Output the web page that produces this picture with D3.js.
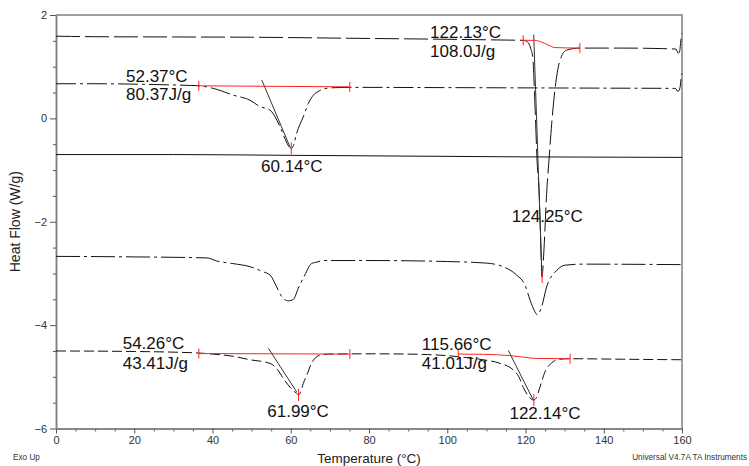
<!DOCTYPE html>
<html>
<head>
<meta charset="utf-8">
<script src="https://cdnjs.cloudflare.com/ajax/libs/d3/7.8.5/d3.min.js"></script>
<style>
body { margin: 0; background: #fff; }
svg { display: block; font-family: "Liberation Sans", Arial, sans-serif; }
</style>
</head>
<body>
<svg id="chart" width="749" height="466"></svg>
<script>
// axis ticks
const xTicks = [0, 20, 40, 60, 80, 100, 120, 140, 160];
const xMinor = d3.range(0, 161, 5).filter(d => d % 20 != 0);
const yTicks = [-6, -4, -2, 0, 2];
const yMinor = d3.range(-6, 2.01, 0.5).filter(d => d % 2 != 0);

// heat flow curves, [temperature °C, W/g]
const curveA = [[0,1.59],[4,1.585],[10,1.58],[30,1.575],[50,1.57],[75,1.55],[100,1.53],[115,1.515],[119.4,1.51],[120.5,1.48],[121.3,1.36],[121.9,1.15],[122.3,0.5],[122.6,-0.1],[122.95,-0.81],[123.5,-1.45],[123.9,-2.42],[124.12,-2.95],[124.25,-3.07],[124.4,-2.95],[124.8,-2.42],[125.4,-1.45],[126.0,-0.81],[126.7,-0.1],[127.5,0.54],[128.8,1.12],[130.5,1.32],[133.9,1.36],[145,1.36],[155,1.35],[158.5,1.34],[159.0,1.26],[159.4,1.3],[159.7,1.5],[160,1.65]];
const curveB = [[0,0.67],[10,0.67],[25,0.655],[33,0.64],[36.5,0.63],[40.2,0.58],[45.3,0.45],[49.6,0.35],[52.1,0.23],[54.7,0.16],[56,0.03],[57.3,-0.17],[58.5,-0.39],[59.6,-0.55],[60.14,-0.58],[60.7,-0.52],[61.5,-0.29],[63.2,0.03],[64.5,0.29],[65.8,0.45],[67.5,0.54],[70,0.59],[75.1,0.6],[100,0.595],[120,0.59],[140,0.585],[158.3,0.58],[159.0,0.52],[159.5,0.6],[159.8,0.8],[160,0.87]];
const curveC = [[0,-0.70],[30,-0.70],[60,-0.715],[90,-0.73],[120,-0.745],[160,-0.755]];
const curveD = [[0,-2.67],[20,-2.68],[38.6,-2.70],[41.1,-2.76],[45.3,-2.81],[49.6,-2.87],[53,-2.97],[54.7,-3.03],[56.4,-3.26],[57.7,-3.45],[59.4,-3.53],[60.7,-3.50],[61.9,-3.29],[63.6,-3.03],[65.3,-2.81],[66.7,-2.78],[68.3,-2.75],[80,-2.75],[100,-2.77],[110,-2.8],[114.3,-2.87],[117.7,-3.03],[119.9,-3.23],[121.2,-3.52],[122.4,-3.74],[123.0,-3.80],[124.1,-3.65],[125.4,-3.26],[128.0,-2.94],[130.1,-2.84],[134.7,-2.82],[160,-2.83]];
const curveE = [[0,-4.50],[20,-4.51],[36.5,-4.54],[40,-4.56],[45,-4.6],[49.6,-4.67],[54.7,-4.74],[56.5,-4.85],[58.1,-5.03],[59.8,-5.2],[61.5,-5.32],[62.0,-5.35],[62.5,-5.3],[63.2,-5.13],[64.3,-4.93],[65.3,-4.74],[67.5,-4.58],[70,-4.56],[80,-4.555],[90,-4.56],[95,-4.57],[100,-4.59],[105,-4.63],[109.2,-4.67],[113.5,-4.74],[116.9,-4.87],[118.3,-5.0],[119.4,-5.2],[120.8,-5.38],[122.1,-5.45],[122.8,-5.4],[123.7,-5.2],[125,-4.9],[126.7,-4.73],[128.8,-4.66],[131.4,-4.65],[145,-4.66],[160,-4.67]];

// analysis marks
const baselines = [
  [[119.4,1.51],[122.4,1.51],[124,1.48],[125.8,1.42],[127.5,1.37],[133.9,1.36]],
  [[36.5,0.63],[75.1,0.61]],
  [[36.5,-4.55],[75.1,-4.56]],
  [[102.8,-4.56],[109.2,-4.565],[116,-4.59],[119.5,-4.62],[122.8,-4.645],[131.4,-4.65]]
];
const tangents = [
  [[122.1,1.62],[124.2,-3.05]],
  [[52.6,0.74],[59.8,-0.55]],
  [[54.3,-4.45],[61.5,-5.29]],
  [[115.6,-4.49],[122.0,-5.45]]
];
const peaks = [[124.25,-3.07],[60.14,-0.58],[61.99,-5.35],[122.14,-5.45]];
const labelText = ["122.13°C","108.0J/g","52.37°C","80.37J/g","60.14°C","124.25°C","54.26°C","43.41J/g","61.99°C","115.66°C","41.01J/g","122.14°C"];
const labelAt = [[95.6,1.555],[95.6,1.19],[17.9,0.704],[17.9,0.356],[52.4,-1.04],[116.5,-2.005],[17.05,-4.46],[17.05,-4.85],[54.0,-5.78],[93.5,-4.48],[93.5,-4.85],[115.9,-5.82]];

const svg = d3.select('#chart');
const x = d3.scaleLinear().domain([0, 160]).range([56, 682]);
const y = d3.scaleLinear().domain([-6, 2]).range([428.5, 15]);

const axisColor = '#808080';

// frame top/right
svg.append('path')
    .attr('d', `M${x(0)},${y(2)}H${x(160)}V${y(-6)}`)
    .attr('fill', 'none').attr('stroke', axisColor).attr('stroke-width', 1.5);

const styleAxis = g => {
    g.select('.domain').attr('stroke', axisColor).attr('stroke-width', 1.5);
    g.selectAll('.tick line').attr('stroke', '#555');
    g.selectAll('.tick text').attr('fill', '#333').style('font-size', '11px')
        .style('font-family', '"Liberation Sans", Arial, sans-serif');
};

svg.append('g').attr('transform', `translate(0,${y(-6)})`)
    .call(d3.axisBottom(x).tickValues(xMinor).tickSize(3).tickSizeOuter(0).tickFormat(''))
    .call(styleAxis);
svg.append('g').attr('transform', `translate(0,${y(-6)})`)
    .call(d3.axisBottom(x).tickValues(xTicks).tickSize(5).tickPadding(3).tickSizeOuter(0))
    .call(styleAxis);
svg.append('g').attr('transform', `translate(${x(0)},0)`)
    .call(d3.axisLeft(y).tickValues(yMinor).tickSize(3).tickSizeOuter(0).tickFormat(''))
    .call(styleAxis);
svg.append('g').attr('transform', `translate(${x(0)},0)`)
    .call(d3.axisLeft(y).tickValues(yTicks).tickSize(6).tickPadding(3).tickSizeOuter(0))
    .call(styleAxis);

const line = d3.line().x(d => x(d[0])).y(d => y(d[1])).curve(d3.curveMonotoneX);
const straight = d3.line().x(d => x(d[0])).y(d => y(d[1]));

const curves = [
    {data: curveA, dash: '24,5'},
    {data: curveB, dash: '20,4,3,4'},
    {data: curveC, dash: null},
    {data: curveD, dash: '24,4,3,4'},
    {data: curveE, dash: '10,4'}
];
svg.selectAll('path.curve').data(curves).enter().append('path')
    .attr('class', 'curve')
    .attr('d', d => line(d.data))
    .attr('fill', 'none')
    .attr('stroke', '#111')
    .attr('stroke-width', 1)
    .attr('stroke-dasharray', d => d.dash);

// onset tangents
svg.selectAll('path.tan').data(tangents).enter().append('path')
    .attr('class', 'tan')
    .attr('d', straight)
    .attr('fill', 'none').attr('stroke', '#333').attr('stroke-width', 1);

// integration baselines
const red = '#ff2020';
svg.selectAll('path.base').data(baselines).enter().append('path')
    .attr('class', 'base')
    .attr('d', line)
    .attr('fill', 'none').attr('stroke', red).attr('stroke-width', 1);

const ends = baselines.flatMap(b => [b[0], b[b.length - 1]]);
svg.selectAll('line.end').data(ends).enter().append('line')
    .attr('class', 'end')
    .attr('x1', d => x(d[0])).attr('x2', d => x(d[0]))
    .attr('y1', d => y(d[1]) - 5).attr('y2', d => y(d[1]) + 5)
    .attr('stroke', red).attr('stroke-width', 1);

svg.selectAll('line.peak').data(peaks).enter().append('line')
    .attr('class', 'peak')
    .attr('x1', d => x(d[0])).attr('x2', d => x(d[0]))
    .attr('y1', d => y(d[1]) - 6).attr('y2', d => y(d[1]) + 6)
    .attr('stroke', red).attr('stroke-width', 1);

// annotations
svg.selectAll('text.ann').data(labelText).enter().append('text')
    .attr('class', 'ann')
    .attr('x', (d, i) => x(labelAt[i][0]))
    .attr('y', (d, i) => y(labelAt[i][1]))
    .attr('fill', '#111')
    .style('font-size', '17px')
    .text(d => d);

// titles
svg.append('text')
    .attr('transform', 'translate(20,221.7) rotate(-90)')
    .attr('text-anchor', 'middle')
    .attr('fill', '#222').style('font-size', '14px')
    .text('Heat Flow (W/g)');
svg.append('text')
    .attr('x', 369).attr('y', 463)
    .attr('text-anchor', 'middle')
    .attr('fill', '#222').style('font-size', '13.5px')
    .text('Temperature (°C)');
svg.append('text')
    .attr('x', 13).attr('y', 460)
    .attr('fill', '#333').style('font-size', '8.2px')
    .text('Exo Up');
svg.append('text')
    .attr('x', 747).attr('y', 459.5)
    .attr('text-anchor', 'end')
    .attr('fill', '#333').style('font-size', '8.2px')
    .text('Universal V4.7A TA Instruments');
</script>
</body>
</html>
